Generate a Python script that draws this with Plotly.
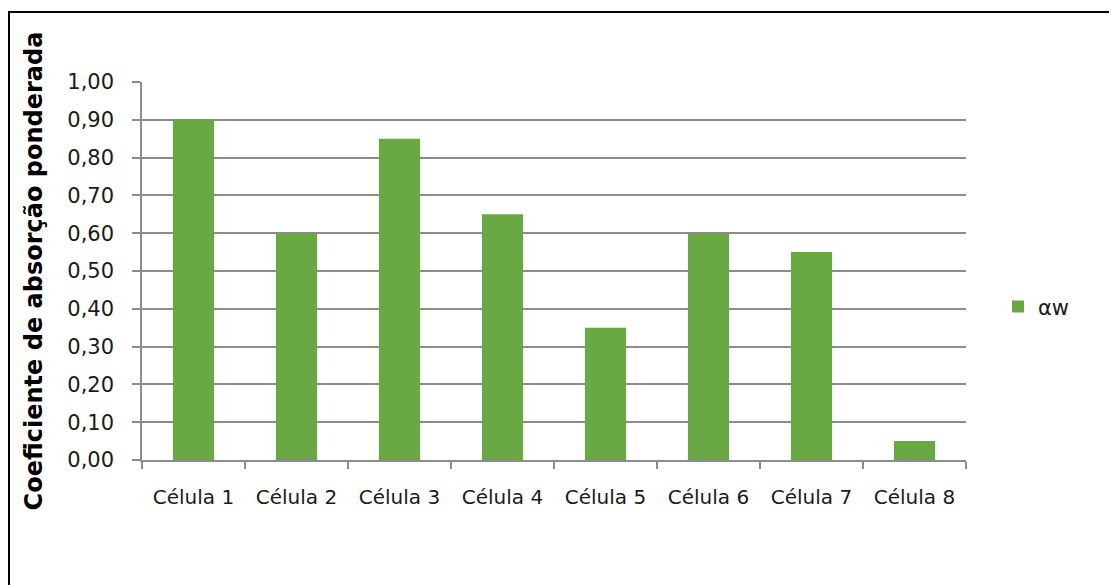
import plotly.graph_objects as go

categories = ["Célula 1", "Célula 2", "Célula 3", "Célula 4", "Célula 5", "Célula 6", "Célula 7", "Célula 8"]
values = [0.90, 0.60, 0.85, 0.65, 0.35, 0.60, 0.55, 0.05]
series_name = "αw"
y_ticks = [0.0, 0.1, 0.2, 0.3, 0.4, 0.5, 0.6, 0.7, 0.8, 0.9, 1.0]
y_tick_labels = ["0,00", "0,10", "0,20", "0,30", "0,40", "0,50", "0,60", "0,70", "0,80", "0,90", "1,00"]

W, H = 1117, 585
OFF = 8  # page body margin
L, T = 142 - OFF, 82 - OFF
R = W - (966 - OFF)
B = H - (460 - OFF)
PW, PH = W - L - R, H - T - B

fig = go.Figure()
fig.add_trace(go.Bar(x=categories, y=values, name=series_name,
                     marker=dict(color="#6aa843", line=dict(width=0)),
                     showlegend=True))

grid_col = "#8c8c8c"
fig.update_layout(
    width=W, height=H,
    margin=dict(l=L, r=R, t=T, b=B),
    paper_bgcolor="white", plot_bgcolor="white",
    bargap=0.6,
    showlegend=True,
    font=dict(family="DejaVu Sans", color="#1a1a1a"),
    legend=dict(x=(998 - OFF - L) / PW, y=0.405, xanchor="left", yanchor="middle",
                font=dict(size=21, color="#1a1a1a"), itemwidth=30,
                bgcolor="rgba(0,0,0,0)"),
    xaxis=dict(type="category", showgrid=False, showline=True, linecolor=grid_col, linewidth=1.5,
               ticks="outside", tickson="boundaries", ticklen=7, tickcolor=grid_col, tickwidth=1.5,
               tickfont=dict(size=20, color="#1a1a1a"), ticklabelstandoff=18),
    yaxis=dict(range=[0, 1.0], tickvals=y_ticks, ticktext=y_tick_labels,
               showgrid=True, gridcolor=grid_col, gridwidth=1.5,
               showline=True, linecolor=grid_col, linewidth=1.5,
               ticks="outside", ticklen=8, tickcolor=grid_col, tickwidth=1.5,
               tickfont=dict(size=21, color="#1a1a1a"), zeroline=False, ticklabelstandoff=14,
               title=dict(text="<b>Coeficiente de absorção ponderada</b>",
                          font=dict(size=24, color="black"), standoff=18)),
)

# outer chart frame
fig.add_shape(type="rect", xref="paper", yref="paper",
              x0=(9 - OFF - L) / PW, x1=(1115 - OFF - L) / PW,
              y0=-(B + 20) / PH, y1=1 + (T - (12 - OFF)) / PH,
              line=dict(color="black", width=2), fillcolor="rgba(0,0,0,0)", layer="below")

fig.write_html("out.html")
